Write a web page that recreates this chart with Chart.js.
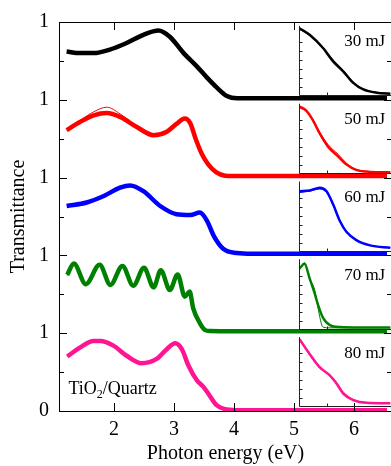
<!DOCTYPE html>
<html><head><meta charset="utf-8">
<script src="https://cdn.jsdelivr.net/npm/chart.js@4/dist/chart.umd.min.js"></script>
<style>html,body{margin:0;padding:0;background:#fff;overflow:hidden;width:391px;height:466px}canvas{display:block}</style>
</head><body><canvas id="c" width="396" height="466"></canvas>
<script>
// ---- tick labels / categories ----
const yTickValues = [0, 1, 2, 3, 4, 5];
const yTickLabels = ['0', '1', '1', '1', '1', '1'];
const xTickValues = [2, 3, 4, 5, 6];
const panelLabels = ['30 mJ', '50 mJ', '60 mJ', '70 mJ', '80 mJ'];
const seriesColors = ['#000000', '#ff0000', '#0000ff', '#008000', '#ff1493'];
const panelOffsets = [4, 3, 2, 1, 0];
const sampleLabel = ['TiO', '2', '/Quartz'];

// ---- main spectra (photon energy in eV, transmittance 0..1 within each panel) ----
const e30 = [1.21, 1.43, 1.66, 1.93, 2.21, 2.49, 2.74, 2.93, 3.16, 3.38, 3.55, 3.71, 3.88, 4.05, 4.3, 5.0, 6.0, 6.55];
const t30 = [0.62, 0.60, 0.60, 0.645, 0.73, 0.835, 0.89, 0.81, 0.60, 0.43, 0.285, 0.16, 0.05, 0.02, 0.02, 0.02, 0.02, 0.02];

const e50 = [1.21, 1.43, 1.66, 1.88, 2.10, 2.38, 2.66, 2.88, 3.04, 3.18, 3.27, 3.36, 3.46, 3.57, 3.70, 3.85, 4.0, 4.3, 5.0, 6.0, 6.55];
const t50 = [0.61, 0.715, 0.80, 0.83, 0.78, 0.65, 0.545, 0.59, 0.69, 0.76, 0.70, 0.50, 0.31, 0.17, 0.07, 0.025, 0.02, 0.02, 0.02, 0.02, 0.02];
const f50 = [0.61, 0.73, 0.845, 0.905, 0.82, 0.66, 0.545, 0.59, 0.69, 0.765, 0.71, 0.52, 0.33, 0.18, 0.075, 0.025, 0.02, 0.02, 0.02, 0.02, 0.02];

const e60 = [1.21, 1.545, 1.82, 2.10, 2.27, 2.49, 2.77, 3.04, 3.27, 3.43, 3.55, 3.66, 3.82, 4.05, 4.3, 5.0, 6.0, 6.55];
const t60 = [0.635, 0.68, 0.76, 0.87, 0.90, 0.825, 0.635, 0.53, 0.52, 0.55, 0.445, 0.255, 0.085, 0.03, 0.02, 0.02, 0.02, 0.02];

const e70 = [1.22, 1.33, 1.53, 1.76, 1.94, 2.14, 2.32, 2.50, 2.66, 2.78, 2.93, 3.06, 3.18, 3.26, 3.32, 3.43, 3.52, 3.60, 4.0, 5.0, 6.0, 6.55];
const t70 = [0.75, 0.895, 0.63, 0.88, 0.62, 0.865, 0.61, 0.84, 0.59, 0.81, 0.555, 0.755, 0.47, 0.535, 0.32, 0.13, 0.04, 0.028, 0.025, 0.025, 0.025, 0.025];
const f70 = [0.74, 0.885, 0.64, 0.87, 0.63, 0.855, 0.62, 0.83, 0.60, 0.80, 0.565, 0.745, 0.50, 0.50, 0.34, 0.11, 0.03, 0.025, 0.025, 0.025, 0.025, 0.025];

const e80 = [1.22, 1.43, 1.66, 1.77, 1.99, 2.21, 2.46, 2.71, 2.88, 3.02, 3.13, 3.24, 3.38, 3.49, 3.57, 3.71, 3.88, 4.1, 5.0, 6.0, 6.55];
const t80 = [0.70, 0.815, 0.90, 0.90, 0.84, 0.71, 0.615, 0.67, 0.795, 0.87, 0.795, 0.585, 0.395, 0.31, 0.225, 0.076, 0.02, 0.01, 0.01, 0.01, 0.01];

// ---- inset curves (normalised position inside each inset box) ----
const u30 = [0.008, 0.117, 0.262, 0.371, 0.48, 0.589, 0.698, 0.844, 0.99];
const v30 = [0.967, 0.871, 0.68, 0.488, 0.344, 0.178, 0.082, 0.034, 0.02];
const w30 = [0.95, 0.86, 0.69, 0.51, 0.36, 0.19, 0.09, 0.04, 0.025];

const u50 = [0.008, 0.08, 0.153, 0.226, 0.316, 0.425, 0.517, 0.626, 0.771, 0.99];
const v50 = [0.96, 0.90, 0.76, 0.57, 0.38, 0.24, 0.12, 0.04, 0.015, 0.01];
const w50 = [0.94, 0.89, 0.77, 0.59, 0.41, 0.27, 0.14, 0.05, 0.02, 0.01];

const u60 = [0.008, 0.117, 0.226, 0.30, 0.371, 0.444, 0.517, 0.626, 0.771, 0.99];
const v60 = [0.86, 0.87, 0.91, 0.86, 0.67, 0.43, 0.27, 0.15, 0.077, 0.043];
const w60 = [0.84, 0.86, 0.89, 0.84, 0.66, 0.44, 0.28, 0.16, 0.08, 0.045];

const u70 = [0.008, 0.062, 0.117, 0.171, 0.207, 0.262, 0.335, 0.444, 0.66, 0.99];
const v70 = [0.866, 0.937, 0.724, 0.51, 0.345, 0.154, 0.05, 0.021, 0.015, 0.015];
const w70 = [0.85, 0.95, 0.72, 0.56, 0.30, 0.02, 0.01, 0.01, 0.01, 0.01];

const u80 = [0.008, 0.117, 0.226, 0.335, 0.408, 0.48, 0.589, 0.735, 0.99];
const v80 = [0.97, 0.756, 0.565, 0.447, 0.328, 0.185, 0.09, 0.05, 0.043];
const w80 = [0.95, 0.74, 0.55, 0.45, 0.35, 0.21, 0.10, 0.055, 0.045];

// ---- layout constants (in data units) ----
const X_MIN = 1.083, X_MAX = 6.633;
const INSET_X0 = 5.08, INSET_X1 = 6.62, INSET_Y0 = 0.06, INSET_Y1 = 0.95;

const mainE = [e30, e50, e60, e70, e80];
const mainT = [t30, t50, t60, t70, t80];
const mainFits = [null, f50, null, f70, null];
const insetU = [u30, u50, u60, u70, u80];
const insetV = [v30, v50, v60, v70, v80];
const insetW = [w30, w50, w60, w70, w80];

function toPts(xs, ys, off) { return xs.map((x, i) => ({ x: x, y: off + ys[i] })); }
function insetPts(us, vs, off) {
  return us.map((u, i) => ({ x: INSET_X0 + u * (INSET_X1 - INSET_X0), y: off + INSET_Y0 + vs[i] * (INSET_Y1 - INSET_Y0) }));
}

const datasets = [];
for (let i = 0; i < 5; i++) {
  const off = panelOffsets[i], c = seriesColors[i];
  datasets.push({ data: toPts(mainE[i], mainT[i], off), borderColor: c, borderWidth: 4.5 });
  if (mainFits[i]) datasets.push({ data: toPts(mainE[i], mainFits[i], off), borderColor: c, borderWidth: 1 });
  datasets.push({ data: insetPts(insetU[i], insetV[i], off), borderColor: c, borderWidth: 2.5 });
  datasets.push({ data: insetPts(insetU[i], insetW[i], off), borderColor: c, borderWidth: 1 });
}
datasets.forEach(d => { d.pointRadius = 0; d.fill = false; d.cubicInterpolationMode = 'monotone'; });

const FONT = 'Liberation Serif';

const decor = {
  id: 'decor',
  afterDatasetsDraw(chart) {
    const { ctx, chartArea: a, scales: { x, y } } = chart;
    ctx.save();
    ctx.strokeStyle = '#000';
    ctx.lineWidth = 1;
    ctx.strokeRect(a.left + 0.5, a.top + 0.5, a.right - a.left, a.bottom - a.top);
    ctx.beginPath();
    for (let v = 0; v <= 5; v += 0.5) {
      const py = Math.round(y.getPixelForValue(v)) + 0.5;
      const len = Number.isInteger(v) ? 8 : 5;
      ctx.moveTo(a.left, py); ctx.lineTo(a.left + len, py);
      ctx.moveTo(a.right, py); ctx.lineTo(a.right - len, py);
    }
    xTickValues.forEach(e => {
      const px = Math.round(x.getPixelForValue(e)) + 0.5;
      ctx.moveTo(px, a.bottom); ctx.lineTo(px, a.bottom - 8);
      ctx.moveTo(px, a.top); ctx.lineTo(px, a.top + 8);
    });
    ctx.stroke();
    // insets
    ctx.strokeStyle = '#222';
    for (let i = 0; i < 5; i++) {
      const off = panelOffsets[i];
      const l = Math.round(x.getPixelForValue(INSET_X0)) + 0.5;
      const r = a.right;
      const t = y.getPixelForValue(off + INSET_Y1);
      const b = Math.round(y.getPixelForValue(off + INSET_Y0)) + 0.5;
      ctx.beginPath();
      ctx.moveTo(l, t); ctx.lineTo(l, b); ctx.lineTo(r, b);
      for (let k = 1; k <= 6; k++) {
        const ty = Math.round(b - (b - t) * k * 0.128) + 0.5;
        ctx.moveTo(l, ty); ctx.lineTo(l + 3, ty);
      }
      const tx = Math.round(x.getPixelForValue(INSET_X0 + 0.31 * (INSET_X1 - INSET_X0))) + 0.5;
      ctx.moveTo(tx, b); ctx.lineTo(tx, b - 3);
      ctx.stroke();
      ctx.fillStyle = '#000';
      ctx.font = '17px "' + FONT + '"';
      ctx.textAlign = 'right';
      ctx.textBaseline = 'alphabetic';
      ctx.fillText(panelLabels[i], x.getPixelForValue(6.52), y.getPixelForValue(off + 0.687));
    }
    // sample label
    ctx.textAlign = 'left';
    let sx = x.getPixelForValue(1.24);
    const sy = y.getPixelForValue(0.216);
    ctx.font = '18px "' + FONT + '"';
    ctx.fillText(sampleLabel[0], sx, sy);
    sx += ctx.measureText(sampleLabel[0]).width;
    ctx.font = '12px "' + FONT + '"';
    ctx.fillText(sampleLabel[1], sx, sy + 4);
    sx += ctx.measureText(sampleLabel[1]).width;
    ctx.font = '18px "' + FONT + '"';
    ctx.fillText(sampleLabel[2], sx, sy);
    ctx.restore();
  }
};

new Chart(document.getElementById('c'), {
  type: 'line',
  data: { datasets: datasets },
  plugins: [decor],
  options: {
    responsive: false,
    animation: false,
    devicePixelRatio: 1,
    layout: { padding: { top: 17, right: 4, bottom: 0, left: 0 } },
    plugins: { legend: { display: false }, tooltip: { enabled: false } },
    elements: { line: { tension: 0.4 } },
    scales: {
      x: {
        type: 'linear', min: X_MIN, max: X_MAX,
        afterBuildTicks: s => { s.ticks = xTickValues.map(v => ({ value: v })); },
        afterFit: s => { s.height = 55; },
        grid: { display: false, drawTicks: false },
        border: { display: false },
        ticks: { color: '#000', padding: 7, font: { family: FONT, size: 20 }, callback: v => String(v) },
        title: { display: true, text: 'Photon energy (eV)', color: '#000', font: { family: FONT, size: 20 }, padding: { top: 0, bottom: 0 } }
      },
      y: {
        type: 'linear', min: 0, max: 5,
        afterBuildTicks: s => { s.ticks = yTickValues.map(v => ({ value: v })); },
        afterFit: s => { s.width = 59; },
        grid: { display: false, drawTicks: false },
        border: { display: false },
        ticks: { color: '#000', padding: 10, font: { family: FONT, size: 20 }, callback: v => yTickLabels[yTickValues.indexOf(v)] },
        title: { display: true, text: 'Transmittance', color: '#000', font: { family: FONT, size: 20 }, padding: { top: 7, bottom: 0 } }
      }
    }
  }
});
</script>
</body></html>
